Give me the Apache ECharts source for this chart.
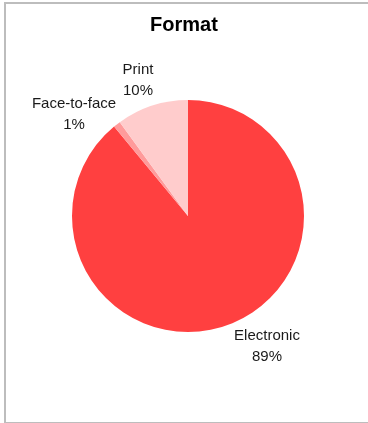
<!DOCTYPE html>
<html><head><meta charset="utf-8">
<script src="https://cdn.jsdelivr.net/npm/echarts@6/dist/echarts.min.js"></script>
<style>
html,body{margin:0;padding:0;background:#fff;}
#frame{position:absolute;left:4px;top:2px;width:370px;height:418px;border:2px solid #bdbdbd;box-sizing:content-box;}
#c{position:absolute;left:0;top:0;width:368px;height:423px;}
</style></head>
<body>
<div id="frame"></div>
<div id="c"></div>
<script>
const categories = ['Electronic', 'Face-to-face', 'Print'];
const values = [89, 1, 10];
const colors = ['#FF4040', '#FF9B9B', '#FFCCCC'];
const labelPos = [[267, 346], [74, 114], [138, 80]];
const FONT = '"Liberation Sans Narrow", "Arial Narrow", "Liberation Sans", sans-serif';

const chart = echarts.init(document.getElementById('c'), null, {renderer: 'canvas'});
chart.setOption({
  animation: false,
  title: {
    text: 'Format', left: 'center', top: 10,
    textStyle: {fontFamily: FONT, fontSize: 20, fontWeight: 'bold', color: '#000'}
  },
  series: [{
    type: 'pie',
    center: [188, 216],
    radius: 116,
    startAngle: 90,
    clockwise: true,
    avoidLabelOverlap: false,
    data: categories.map((n, i) => ({name: n, value: values[i], itemStyle: {color: colors[i]}})),
    label: {
      show: true, position: 'outside',
      formatter: '{b}\n{d}%',
      fontFamily: FONT, fontSize: 15, color: '#1a1a1a', lineHeight: 21, align: 'center',
      overflow: 'none', width: 200
    },
    labelLine: {show: false},
    labelLayout: function (p) {
      return {x: labelPos[p.dataIndex][0], y: labelPos[p.dataIndex][1], align: 'center', verticalAlign: 'middle'};
    },
    emphasis: {disabled: true}
  }]
});
</script>
</body></html>
